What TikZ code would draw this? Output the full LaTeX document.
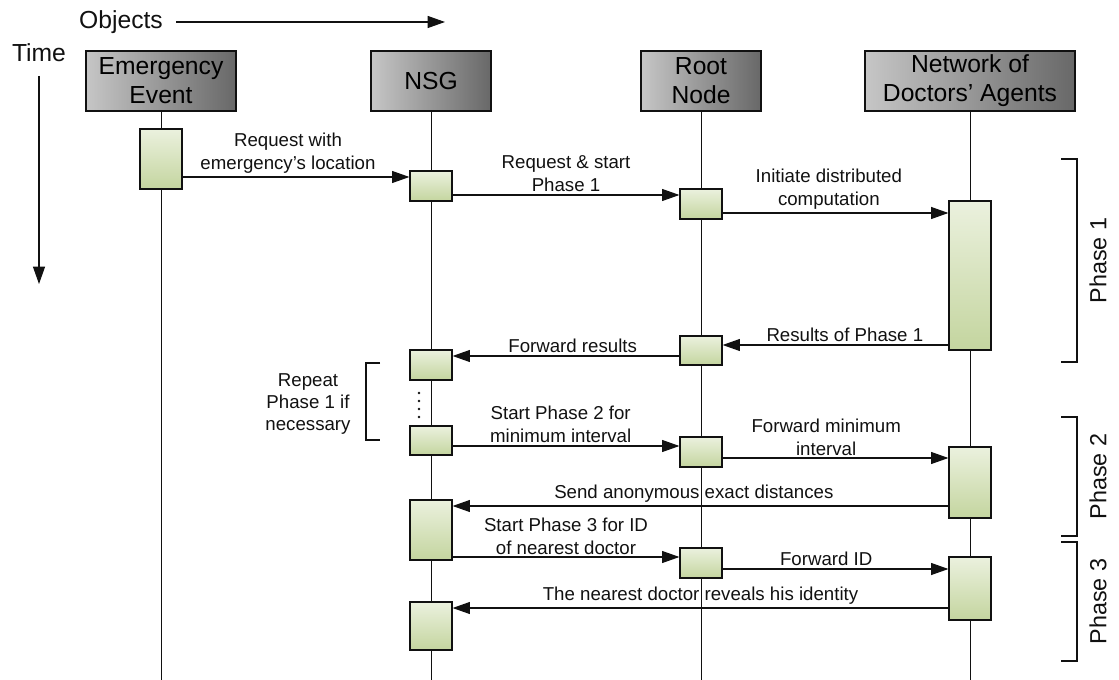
\documentclass[tikz,border=0pt]{standalone}
\usepackage{fontspec}
\setmainfont{Liberation Sans}
\usetikzlibrary{arrows.meta}
\definecolor{SeqHeadLight}{HTML}{C6C6C6}
\definecolor{SeqHeadDark}{HTML}{686868}
\definecolor{SeqActTop}{HTML}{EBF1DE}
\definecolor{SeqActBottom}{HTML}{C4D59F}
\definecolor{SeqInk}{HTML}{111111}

\begin{document}
\begin{tikzpicture}[x=0.75pt,y=-0.75pt,
    objhead/.style={draw=SeqInk, line width=0.9pt, left color=SeqHeadLight, right color=SeqHeadDark, minimum height=45pt, inner sep=0pt, align=center, font=\fontsize{18.5pt}{21.75pt}\selectfont},
    actbox/.style={draw=SeqInk, line width=0.9pt, top color=SeqActTop, bottom color=SeqActBottom, minimum width=31.5pt, inner sep=0pt},
    lifeline/.style={draw=SeqInk, line width=0.75pt},
    msg/.style={draw=SeqInk, line width=0.8pt, -{Triangle[length=13pt,width=9pt]}},
    msglabel/.style={midway, above, inner sep=2pt, align=center, text=SeqInk, font=\fontsize{14pt}{17.25pt}\selectfont},
    bracketline/.style={draw=SeqInk, line width=0.8pt},
    sidetext/.style={text=SeqInk, font=\fontsize{17.5pt}{21pt}\selectfont}]
  \useasboundingbox (0,0) rectangle (1119,680);
  \node[sidetext, font=\fontsize{18.5pt}{21pt}\selectfont] (objects) at (121,22) {Objects};
  \node[sidetext, font=\fontsize{18.5pt}{21pt}\selectfont] (time) at (39,53) {Time};
  \coordinate (objStart) at (176,22);
  \coordinate (objEnd) at (445,22);
  \coordinate (timeStart) at (39,76);
  \coordinate (timeEnd) at (39,284);
  \draw[msg] (objStart) -- (objEnd);
  \draw[msg] (timeStart) -- (timeEnd);
  \node[objhead, minimum width=112.5pt] (emg) at (161,81) {Emergency\\Event};
  \node[objhead, minimum width=90pt] (nsg) at (431,81) {NSG};
  \node[objhead, minimum width=90pt] (root) at (701,81) {Root\\Node};
  \node[objhead, minimum width=157.5pt] (net) at (970,81) {Network of\\Doctors’ Agents};
  \foreach \obj in {emg,nsg,root,net} {
    \draw[lifeline] (\obj.south) -- (\obj.south |- 0,680);
  }
  \node[actbox, minimum height=45pt] (e1) at (161,159) {};
  \node[actbox, minimum height=22.5pt] (n1) at (431,186) {};
  \node[actbox, minimum height=22.5pt] (n2) at (431,365) {};
  \node[actbox, minimum height=21.75pt] (n3) at (431,440.5) {};
  \node[actbox, minimum height=45pt] (n4) at (431,530) {};
  \node[actbox, minimum height=36pt] (n5) at (431,626) {};
  \node[actbox, minimum height=22.5pt] (r1) at (701,204) {};
  \node[actbox, minimum height=21.75pt] (r2) at (701,350.5) {};
  \node[actbox, minimum height=22.5pt] (r3) at (701,452) {};
  \node[actbox, minimum height=22.5pt] (r4) at (701,563) {};
  \node[actbox, minimum height=111.75pt] (d1) at (970,275.5) {};
  \node[actbox, minimum height=53.25pt] (d2) at (970,482.5) {};
  \node[actbox, minimum height=47.25pt] (d3) at (970,588.5) {};
  \draw[msg] (e1.east |- 0,177) -- (n1.west |- 0,177) node[msglabel, xshift=-6pt] {Request with\\emergency’s location};
  \draw[msg] (n1.east |- 0,195) -- (r1.west |- 0,195) node[msglabel] {Request \& start\\Phase 1};
  \draw[msg] (r1.east |- 0,213) -- (d1.west |- 0,213) node[msglabel, xshift=-5pt] {Initiate distributed\\computation};
  \draw[msg] (d1.west |- 0,345) -- (r2.east |- 0,345) node[msglabel, xshift=7pt] {Results of Phase 1};
  \draw[msg] (r2.west |- 0,356) -- (n2.east |- 0,356) node[msglabel, xshift=5pt] {Forward results};
  \draw[msg] (n3.east |- 0,446) -- (r3.west |- 0,446) node[msglabel, xshift=-4pt] {Start Phase 2 for\\minimum interval};
  \draw[msg] (r3.east |- 0,458) -- (d2.west |- 0,458) node[msglabel, xshift=-7pt, inner sep=1.5pt] {Forward minimum\\interval};
  \draw[msg] (d2.west |- 0,506) -- (n4.east |- 0,506) node[msglabel, xshift=-5pt] {Send anonymous exact distances};
  \draw[msg] (n4.east |- 0,557) -- (r4.west |- 0,557) node[msglabel, inner sep=1.2pt] {Start Phase 3 for ID\\of nearest doctor};
  \draw[msg] (r4.east |- 0,569) -- (d3.west |- 0,569) node[msglabel, xshift=-7pt] {Forward ID};
  \draw[msg] (d3.west |- 0,608) -- (n5.east |- 0,608) node[msglabel] {The nearest doctor reveals his identity};
  \foreach \k in {0,...,3} {
    \fill[SeqInk] (419,{393+8*\k}) circle (1pt);
  }
  \draw[bracketline] (380,363) -- (366,363) -- (366,440) -- (380,440);
  \node[align=center, text=SeqInk, font=\fontsize{14pt}{16.5pt}\selectfont] (repeat) at (308,404) {Repeat\\Phase 1 if\\necessary};
  \foreach \top/\bot/\ph in {159/362/1, 417/536/2, 542/661/3} {
    \draw[bracketline] (1061,\top) -- (1077,\top) -- (1077,\bot) -- (1061,\bot);
    \node[sidetext, rotate=90] (phase\ph) at (1098,{(\top+\bot)/2}) {Phase \ph};
  }
\end{tikzpicture}
\end{document}
